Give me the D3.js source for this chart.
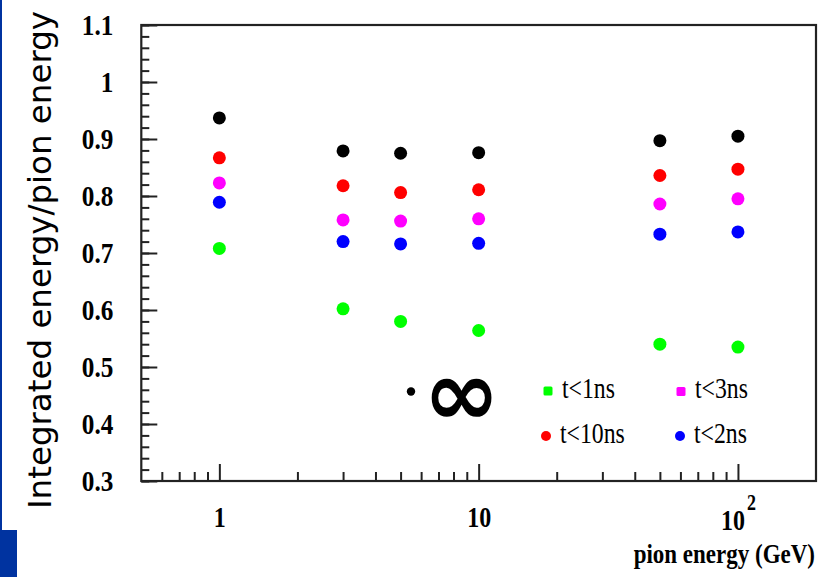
<!DOCTYPE html>
<html>
<head>
<meta charset="utf-8">
<script src="https://cdn.jsdelivr.net/npm/d3@7"></script>
<style>
  html, body { margin: 0; padding: 0; background: #fff; }
  svg { display: block; }
</style>
</head>
<body>
<svg id="chart" width="830" height="577"></svg>
<script>
// Pion beam energies (GeV)
const energies = [1, 3, 5, 10, 50, 100];

// Integrated energy / pion energy for each integration time window
const tInf  = [0.937, 0.879, 0.875, 0.876, 0.897, 0.905];
const t10ns = [0.867, 0.818, 0.806, 0.811, 0.836, 0.847];
const t3ns  = [0.823, 0.758, 0.756, 0.760, 0.786, 0.795];
const t2ns  = [0.789, 0.720, 0.716, 0.717, 0.733, 0.737];
const t1ns  = [0.708, 0.602, 0.580, 0.564, 0.540, 0.535];

const seriesNames  = ["\u221e", "t<10ns", "t<3ns", "t<2ns", "t<1ns"];
const seriesColors = ["#000000", "#ff0000", "#ff00ff", "#0000ff", "#00ff00"];

const yMajorTicks = [0.3, 0.4, 0.5, 0.6, 0.7, 0.8, 0.9, 1.0, 1.1];
const yTickLabels = ["0.3", "0.4", "0.5", "0.6", "0.7", "0.8", "0.9", "1", "1.1"];
const xMajorTicks = [1, 10, 100];
const xMinorTicks = [0.6, 0.7, 0.8, 0.9, 2, 3, 4, 5, 6, 7, 8, 9,
                     20, 30, 40, 50, 60, 70, 80, 90];

const xTitle = "pion energy (GeV)";
const yTitle = "Integrated energy/pion energy";

const svg = d3.select("#chart");
const plot = { left: 141.3, right: 816, top: 25, bottom: 481 };

const x = d3.scaleLog().domain([0.5, 200]).range([plot.left, plot.right]);
const y = d3.scaleLinear().domain([0.3, 1.1]).range([plot.bottom, plot.top]);

// Slide decoration: thin blue rule down the left edge and a block at the bottom
svg.append("rect").attr("x", 0).attr("y", 0).attr("width", 2).attr("height", 531).attr("fill", "#0033a0");
svg.append("rect").attr("x", 0).attr("y", 530).attr("width", 17).attr("height", 47).attr("fill", "#0033a0");

const tickFont = "'Liberation Serif', 'Times New Roman', serif";

// Y axis: minor ticks every 0.02, major every 0.1, all pointing into the frame
const yMinor = d3.range(15, 56, 1).map(v => +(v * 0.02).toFixed(2)).filter(v => v >= 0.3 && v <= 1.1);
svg.append("g")
  .attr("transform", `translate(${plot.left},0)`)
  .call(d3.axisLeft(y).tickValues(yMinor).tickSize(-8).tickFormat(""))
  .call(g => g.select(".domain").remove())
  .call(g => g.selectAll("line").attr("stroke", "#222").attr("stroke-width", 2));

const yAxisG = svg.append("g")
  .attr("transform", `translate(${plot.left},0)`)
  .call(d3.axisLeft(y).tickValues(yMajorTicks).tickSize(-16).tickPadding(28)
        .tickFormat((d, i) => yTickLabels[i]))
  .call(g => g.select(".domain").remove())
  .call(g => g.selectAll("line").attr("stroke", "#222").attr("stroke-width", 2));
yAxisG.selectAll("text")
  .attr("font-family", tickFont).attr("font-weight", "bold")
  .attr("font-size", 24).attr("fill", "#000")
  .attr("dy", null)
  .attr("dominant-baseline", "central")
  .style("transform-box", "fill-box")
  .style("transform-origin", "right center")
  .style("transform", "scale(1.05, 1.2)");

// X axis: log decades with minor ticks
svg.append("g")
  .attr("transform", `translate(0,${plot.bottom})`)
  .call(d3.axisBottom(x).tickValues(xMinorTicks).tickSize(-9).tickFormat(""))
  .call(g => g.select(".domain").remove())
  .call(g => g.selectAll("line").attr("stroke", "#222").attr("stroke-width", 2));

const xAxisG = svg.append("g")
  .attr("transform", `translate(0,${plot.bottom})`)
  .call(d3.axisBottom(x).tickValues(xMajorTicks).tickSize(-17).tickPadding(24)
        .tickFormat(d => d === 100 ? "10" : String(d)))
  .call(g => g.select(".domain").remove())
  .call(g => g.selectAll("line").attr("stroke", "#222").attr("stroke-width", 2));
xAxisG.selectAll("text")
  .attr("font-family", tickFont).attr("font-weight", "bold")
  .attr("font-size", 24).attr("fill", "#000")
  .style("transform-box", "fill-box")
  .style("transform-origin", "center top")
  .style("transform", "scale(1.0, 1.25)");
xAxisG.selectAll(".tick").filter(d => d === 100).select("text")
  .append("tspan").attr("dy", -16).attr("dx", 2).attr("font-size", 18).text("2");

// Frame
svg.append("rect")
  .attr("x", plot.left).attr("y", plot.top)
  .attr("width", plot.right - plot.left).attr("height", plot.bottom - plot.top)
  .attr("fill", "none").attr("stroke", "#222").attr("stroke-width", 2.2);

// Data markers
const allSeries = [tInf, t10ns, t3ns, t2ns, t1ns];
allSeries.forEach((vals, si) => {
  svg.append("g").selectAll("circle")
    .data(vals.map((v, i) => ({ e: energies[i], v })))
    .join("circle")
    .attr("cx", d => x(d.e))
    .attr("cy", d => y(d.v))
    .attr("r", 6.5)
    .attr("fill", seriesColors[si]);
});

// Legend
const leg = svg.append("g");
// black entry: small dot and an infinity sign
leg.append("circle").attr("cx", 411).attr("cy", 391.5).attr("r", 4.2).attr("fill", seriesColors[0]);
leg.append("text").attr("x", 461.5).attr("y", 393).attr("text-anchor", "middle")
  .attr("dominant-baseline", "central")
  .attr("font-family", "'DejaVu Sans', sans-serif").attr("font-weight", "bold")
  .attr("font-size", 92).attr("fill", "#000").text(seriesNames[0]);

const legendItems = [
  { s: 4, x: 548, y: 391, shape: "square" },
  { s: 2, x: 681, y: 391.5, shape: "square" },
  { s: 1, x: 546, y: 436, shape: "circle" },
  { s: 3, x: 680, y: 436, shape: "circle" }
];
legendItems.forEach(it => {
  if (it.shape === "square") {
    leg.append("rect").attr("x", it.x - 4.5).attr("y", it.y - 4.5).attr("width", 9).attr("height", 9)
      .attr("rx", 1.5).attr("fill", seriesColors[it.s]);
  } else {
    leg.append("circle").attr("cx", it.x).attr("cy", it.y).attr("r", 5).attr("fill", seriesColors[it.s]);
  }
  leg.append("text").attr("x", it.x + 14).attr("y", it.y + 7.5)
    .attr("font-family", tickFont).attr("font-size", 25).attr("fill", "#000")
    .style("transform-box", "fill-box").style("transform-origin", "left bottom")
    .style("transform", "scale(0.95, 1.15)")
    .text(seriesNames[it.s]);
});

// Axis titles
svg.append("text")
  .attr("x", 815).attr("y", 564).attr("text-anchor", "end")
  .attr("font-family", tickFont).attr("font-weight", "bold")
  .attr("font-size", 23).attr("fill", "#000")
  .style("transform-box", "fill-box").style("transform-origin", "right bottom")
  .style("transform", "scale(1.0, 1.2)")
  .text(xTitle);

svg.append("text")
  .attr("transform", "translate(51,260) rotate(-90)")
  .attr("text-anchor", "middle")
  .attr("font-family", "'DejaVu Sans', sans-serif")
  .attr("font-size", 32).attr("fill", "#000")
  .attr("textLength", 498).attr("lengthAdjust", "spacingAndGlyphs")
  .text(yTitle);
</script>
</body>
</html>
